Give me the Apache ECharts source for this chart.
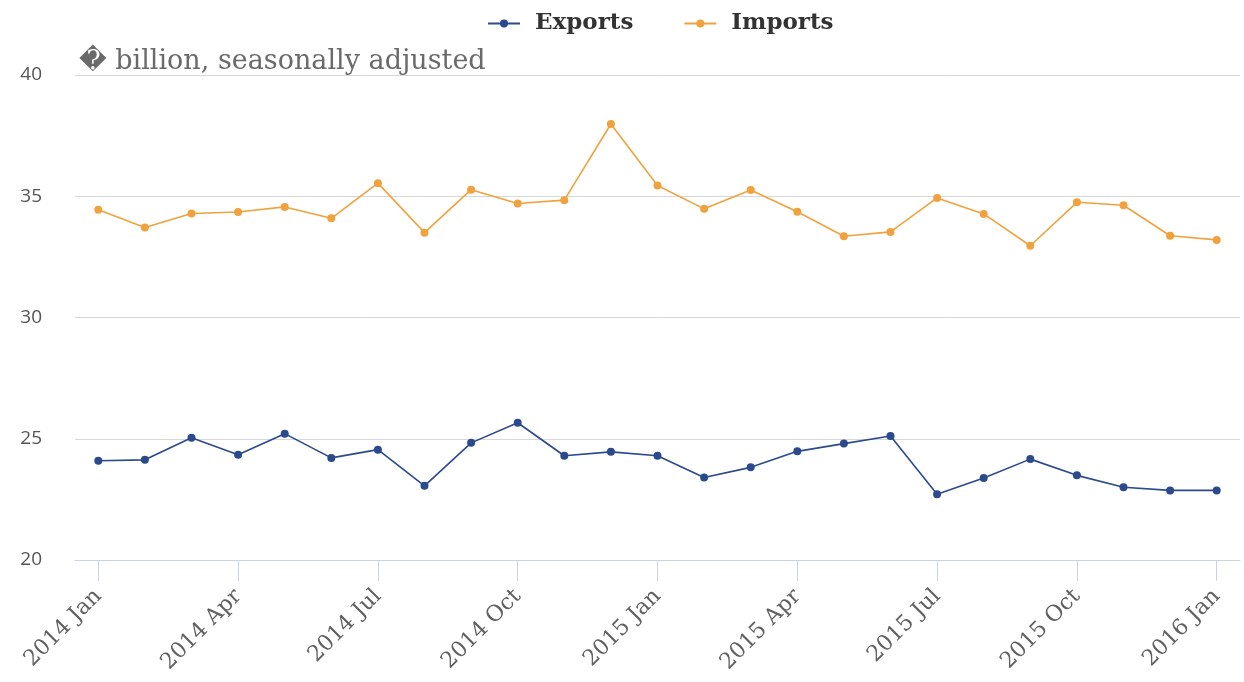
<!DOCTYPE html>
<html>
<head>
<meta charset="utf-8">
<script src="https://cdn.jsdelivr.net/npm/echarts@6/dist/echarts.min.js"></script>
<style>
  html, body { margin: 0; padding: 0; background: #fff; }
  #chart { width: 1244px; height: 682px; }
</style>
</head>
<body>
<div id="chart"></div>
<script>
// Monthly trade figures, billions, seasonally adjusted
const months = [
  '2014 Jan', '2014 Feb', '2014 Mar', '2014 Apr', '2014 May', '2014 Jun',
  '2014 Jul', '2014 Aug', '2014 Sep', '2014 Oct', '2014 Nov', '2014 Dec',
  '2015 Jan', '2015 Feb', '2015 Mar', '2015 Apr', '2015 May', '2015 Jun',
  '2015 Jul', '2015 Aug', '2015 Sep', '2015 Oct', '2015 Nov', '2015 Dec',
  '2016 Jan'
];
const exportsValues = [
  24.09, 24.13, 25.04, 24.34, 25.21, 24.21, 24.55, 23.06, 24.83, 25.66, 24.30, 24.46,
  24.30, 23.40, 23.82, 24.48, 24.80, 25.11, 22.71, 23.38, 24.16, 23.49, 23.00, 22.87,
  22.87
];
const importsValues = [
  34.44, 33.71, 34.29, 34.35, 34.56, 34.09, 35.54, 33.50, 35.27, 34.70, 34.84, 37.98,
  35.44, 34.48, 35.26, 34.36, 33.35, 33.53, 34.93, 34.27, 32.96, 34.75, 34.63, 33.37,
  33.20
];
const yTicks = [20, 25, 30, 35, 40];

const serif = '"DejaVu Serif", serif';
const sans = '"Open Sans", sans-serif';

const chart = echarts.init(document.getElementById('chart'), null, { renderer: 'canvas' });
chart.setOption({
  animation: false,
  color: ['#2b4a8e', '#f0a23e'],
  title: {
    text: '\uFFFD billion, seasonally adjusted',
    left: 74,
    top: 43,
    textStyle: { fontFamily: serif, fontSize: 27, fontWeight: 'normal', color: '#6a6a6a' }
  },
  legend: {
    top: 7,
    left: 482,
    itemGap: 50,
    itemWidth: 32,
    itemHeight: 10,
    textStyle: {
      fontFamily: serif,
      fontSize: 23,
      fontWeight: 'bold',
      color: '#333333',
      padding: [0, 0, 0, 10]
    }
  },
  grid: { left: 75, right: 4, top: 75, bottom: 122, containLabel: false },
  xAxis: {
    type: 'category',
    data: months,
    boundaryGap: true,
    axisLine: { lineStyle: { color: '#c8d4e4', width: 1 } },
    axisTick: {
      show: true,
      alignWithLabel: true,
      interval: 2,
      length: 21,
      lineStyle: { color: '#c8d4e4', width: 1 }
    },
    axisLabel: {
      interval: 2,
      rotate: 45,
      margin: 33,
      fontFamily: serif,
      fontSize: 22,
      color: '#606060'
    }
  },
  yAxis: {
    type: 'value',
    min: yTicks[0],
    max: yTicks[yTicks.length - 1],
    interval: 5,
    axisLine: { show: false },
    axisTick: { show: false },
    axisLabel: { fontFamily: sans, fontSize: 19, color: '#555555', margin: 33 },
    splitLine: { lineStyle: { color: '#d8d8d8', width: 1 } }
  },
  series: [
    {
      name: 'Exports',
      type: 'line',
      data: exportsValues,
      symbol: 'circle',
      symbolSize: 8,
      lineStyle: { width: 1.6 }
    },
    {
      name: 'Imports',
      type: 'line',
      data: importsValues,
      symbol: 'circle',
      symbolSize: 8,
      lineStyle: { width: 1.6 }
    }
  ]
});
</script>
</body>
</html>
